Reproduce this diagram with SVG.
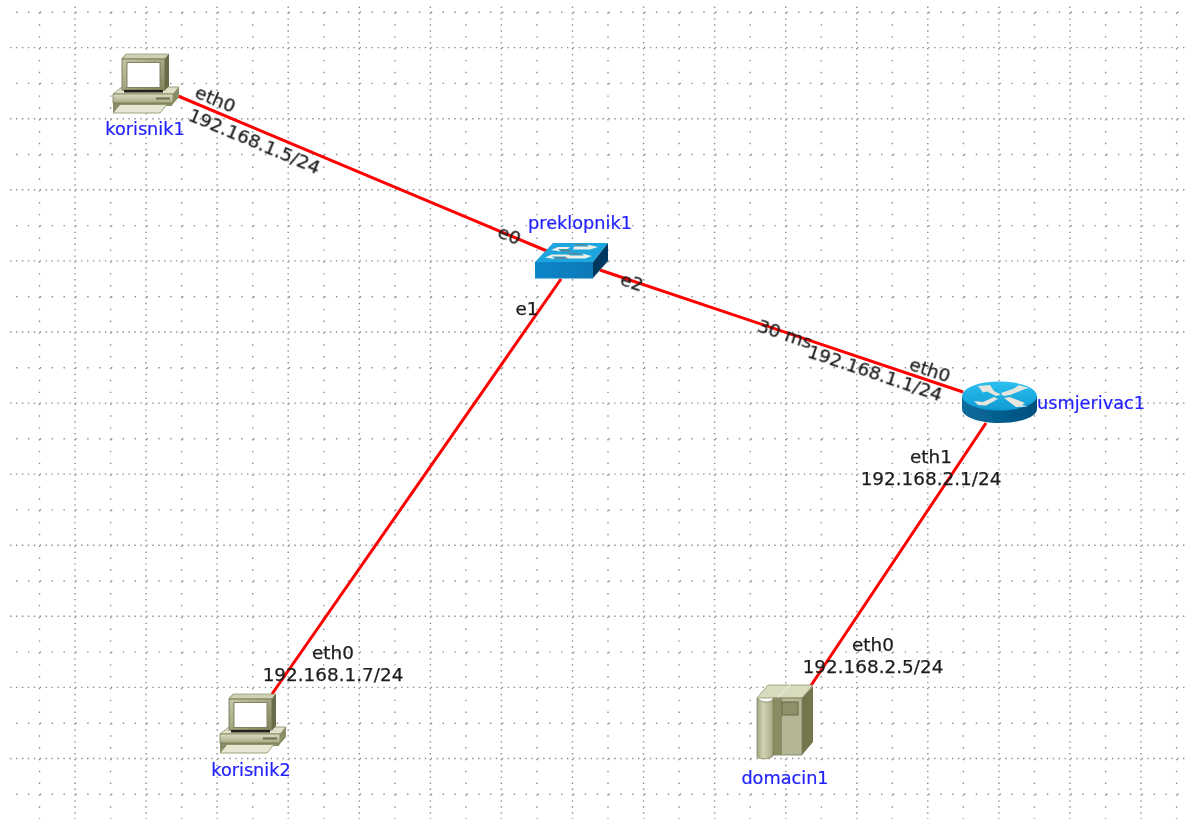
<svg xmlns="http://www.w3.org/2000/svg" xmlns:xlink="http://www.w3.org/1999/xlink" width="1185" height="819" viewBox="0 0 1185 819">
<style>
.grid{fill:none;stroke:#8c8c8c;stroke-width:1.4}
.gh{stroke-dasharray:1.4 4.524}
.gl{stroke-dasharray:1.4 10.448}
.link{stroke:#ff0000;stroke-width:3;stroke-linecap:butt;fill:none}
text{font-family:"DejaVu Sans",Verdana,sans-serif;text-anchor:middle;dominant-baseline:auto}
.lbl{font-size:18.4px;fill:#1c1c1c;stroke:#1c1c1c;stroke-width:.25;filter:url(#soft)}
.name{font-size:17.7px;fill:#2222ff;stroke:#2222ff;stroke-width:.2;filter:url(#soft)}
.ico{filter:url(#soft)}
</style>
<defs>
<filter id="soft" x="-10%" y="-30%" width="120%" height="160%"><feGaussianBlur stdDeviation="0.4"/></filter>
<linearGradient id="mon" x1="0" y1="0" x2="1" y2="1"><stop offset="0" stop-color="#c6c8a6"/><stop offset="1" stop-color="#82845c"/></linearGradient>
<linearGradient id="base" x1="0" y1="0" x2="0" y2="1"><stop offset="0" stop-color="#dcdec4"/><stop offset="1" stop-color="#a6a884"/></linearGradient>
<linearGradient id="rtop" x1="0" y1="0" x2="0" y2="1"><stop offset="0" stop-color="#2cc0f0"/><stop offset="1" stop-color="#0f9ad2"/></linearGradient>
<linearGradient id="rbody" x1="0" y1="0" x2="1" y2="0"><stop offset="0" stop-color="#0a6c9c"/><stop offset="1" stop-color="#00507f"/></linearGradient>
<linearGradient id="sfront" x1="0" y1="0" x2="1" y2="0"><stop offset="0" stop-color="#0d86c9"/><stop offset="1" stop-color="#0a78b8"/></linearGradient>
<linearGradient id="pan" x1="0" y1="0" x2="1" y2="0"><stop offset="0" stop-color="#a5a782"/><stop offset=".4" stop-color="#d0d2b4"/><stop offset="1" stop-color="#a8aa86"/></linearGradient>
<g id="pc">
<path d="M1 60 L8 53 H60 L67 34 V44 L61 51 V50 H1 Z" fill="#8b8d66"/>
<path d="M1 41 L10 34 H67 L61 41 Z" fill="#dfe1c8" stroke="#8b8d66" stroke-width=".8"/>
<path d="M1 41 H61 V50 H1 Z" fill="url(#base)" stroke="#76784f" stroke-width=".8"/>
<path d="M61 41 L67 34 V43 L61 50 Z" fill="#8b8d66"/>
<rect x="44" y="44.500" width="14" height="2" fill="#6b6d4a"/>
<path d="M10 37 V5 L14 1 H57 V33 L53 37 Z" fill="#8f916a"/>
<path d="M10 6 L14 1 H57 L53 6 Z" fill="#cfd1b4" stroke="#7d7f58" stroke-width=".6"/>
<rect x="10" y="6" width="43" height="31" fill="url(#mon)" stroke="#6b6d4a" stroke-width=".8"/>
<rect x="15" y="9.500" width="33" height="25" fill="#ffffff" stroke="#77795a" stroke-width=".9"/>
<path d="M53 6 L57 1 V33 L53 37 Z" fill="#6a6c48"/>
<rect x="12" y="37" width="39" height="2.500" fill="#22221c"/>
<path d="M1 60 L8 51.500 H55 L48 60 Z" fill="#e7e8d4" stroke="#8b8d66" stroke-width=".8"/>
</g>
</defs>
<rect width="1185" height="819" fill="#ffffff"/>
<g id="grid">
<path class="grid gh" d="M10.05 47.6H1185M10.05 118.7H1185M10.05 189.8H1185M10.05 260.9H1185M10.05 332H1185M10.05 403.1H1185M10.05 474.1H1185M10.05 545.2H1185M10.05 616.3H1185M10.05 687.4H1185M10.05 758.5H1185"/>
<path class="grid gl" d="M16.1 12.3H1185M16.1 83.4H1185M16.1 154.5H1185M16.1 225.6H1185M16.1 296.7H1185M16.1 367.8H1185M16.1 438.8H1185M16.1 509.9H1185M16.1 581H1185M16.1 652.1H1185M16.1 723.2H1185M16.1 794.3H1185"/>
<path class="grid gh" d="M75 6.57V819M146.1 6.57V819M217.1 6.57V819M288.2 6.57V819M359.3 6.57V819M430.4 6.57V819M501.4 6.57V819M572.5 6.57V819M643.6 6.57V819M714.6 6.57V819M785.7 6.57V819M856.8 6.57V819M927.8 6.57V819M998.9 6.57V819M1070 6.57V819M1141 6.57V819"/>
<path class="grid gl" d="M39.5 12.5V819M110.6 12.5V819M181.6 12.5V819M252.7 12.5V819M323.8 12.5V819M394.9 12.5V819M465.9 12.5V819M537 12.5V819M608 12.5V819M679.1 12.5V819M750.2 12.5V819M821.3 12.5V819M892.3 12.5V819M963.4 12.5V819M1034.5 12.5V819M1105.6 12.5V819M1176.6 12.5V819"/>
</g>
<g id="connectors" class="ico">
<path class="link" d="M178 96L547 251"/>
<path class="link" d="M600 270L963 392"/>
<path class="link" d="M561 279L272 694"/>
<path class="link" d="M986 423L810 687"/>
</g>
<g id="link-labels">
<text class="lbl" transform="translate(213 105) rotate(22.8)">eth0</text>
<text class="lbl" transform="translate(252 147) rotate(22.8)">192.168.1.5/24</text>
<text class="lbl" transform="translate(507 241) rotate(22.8)">e0</text>
<text class="lbl" x="527" y="315">e1</text>
<text class="lbl" transform="translate(630 288) rotate(18.5)">e2</text>
<text class="lbl" transform="translate(783 340) rotate(18.5)">30 ms</text>
<text class="lbl" transform="translate(873 379) rotate(18.5)">192.168.1.1/24</text>
<text class="lbl" transform="translate(928 376) rotate(18.5)">eth0</text>
<text class="lbl" x="931" y="463">eth1</text>
<text class="lbl" x="931" y="485">192.168.2.1/24</text>
<text class="lbl" x="873" y="651">eth0</text>
<text class="lbl" x="873" y="673">192.168.2.5/24</text>
<text class="lbl" x="333" y="659">eth0</text>
<text class="lbl" x="333" y="681">192.168.1.7/24</text>
</g>
<g id="korisnik1">
<use href="#pc" x="112" y="53" class="ico"/>
<text class="name" x="145" y="135">korisnik1</text>
</g>
<g id="korisnik2">
<use href="#pc" x="219" y="693" class="ico"/>
<text class="name" x="251" y="776">korisnik2</text>
</g>
<g id="preklopnik1">
<g class="ico">
<path d="M535 262L553 243H608L593 262Z" fill="#1ea6dd"/>
<path d="M593 262L608 243V261L593 278Z" fill="#04395f"/>
<rect x="535" y="262" width="58" height="16.500" fill="url(#sfront)"/>
<path d="M545 257.500L552 254.500H570L569 256.500H552L555 259Z M551 250L558 247H570L568 249H558L561 251.500Z M566 255.500H584L582 253.500L592 256L585 258.500H566Z M574 246.500H589L587 244.500L598 247L590 249.500H573Z" fill="#f0f0e8"/>
<path d="M555 259H569L566 257H555Z M561 251.500H571L569 249.500H559Z M566 254.500H583L581 253H568Z M574 245.500H588L586 244H576Z" fill="#6f7f7a" opacity=".7"/>
</g>
<text class="name" x="580" y="229">preklopnik1</text>
</g>
<g id="usmjerivac1">
<g class="ico">
<path d="M962 396V409C962 417 979 423 999.500 423S1037 417 1037 409V396Z" fill="url(#rbody)"/>
<ellipse cx="999.500" cy="396" rx="37.500" ry="14.500" fill="url(#rtop)"/>
<path d="M978 386L990 385L994 391L1001 394.500L996 396L987 391.500L983 392.500Z M1019 385L1029 388L1025 389L1010 395L1003 396L1001 393L1014 388.500Z M978 405L974 401L983 402L994 397L998 399L986 405.500Z M1022 405L1025 403L1010 397L1004 398L1016 407L1028 406.500Z" fill="#e6e6df"/>
</g>
<text class="name" x="1091" y="409">usmjerivac1</text>
</g>
<g id="domacin1">
<g class="ico">
<path d="M757 698L768 685H813L802 698Z" fill="#d8dbbe" stroke="#8b8d66" stroke-width=".7"/>
<path d="M777 698L790 685" stroke="#f2f3e6" stroke-width="1" fill="none"/>
<path d="M802 698L813 686V742L802 755Z" fill="#73754e"/>
<path d="M773 698H802V755H773Z" fill="#b3b594" stroke="#7a7c55" stroke-width=".8"/>
<rect x="773" y="698" width="9" height="57" fill="#8a8c63"/>
<path d="M757 698C762 703 768 703 773 700V756C771 759 760 760 757 757Z" fill="url(#pan)" stroke="#7a7c55" stroke-width=".7"/>
<rect x="782" y="702" width="16" height="13" fill="#8f906a" stroke="#686a46" stroke-width="1"/>
</g>
<text class="name" x="785" y="784">domacin1</text>
</g>
</svg>
